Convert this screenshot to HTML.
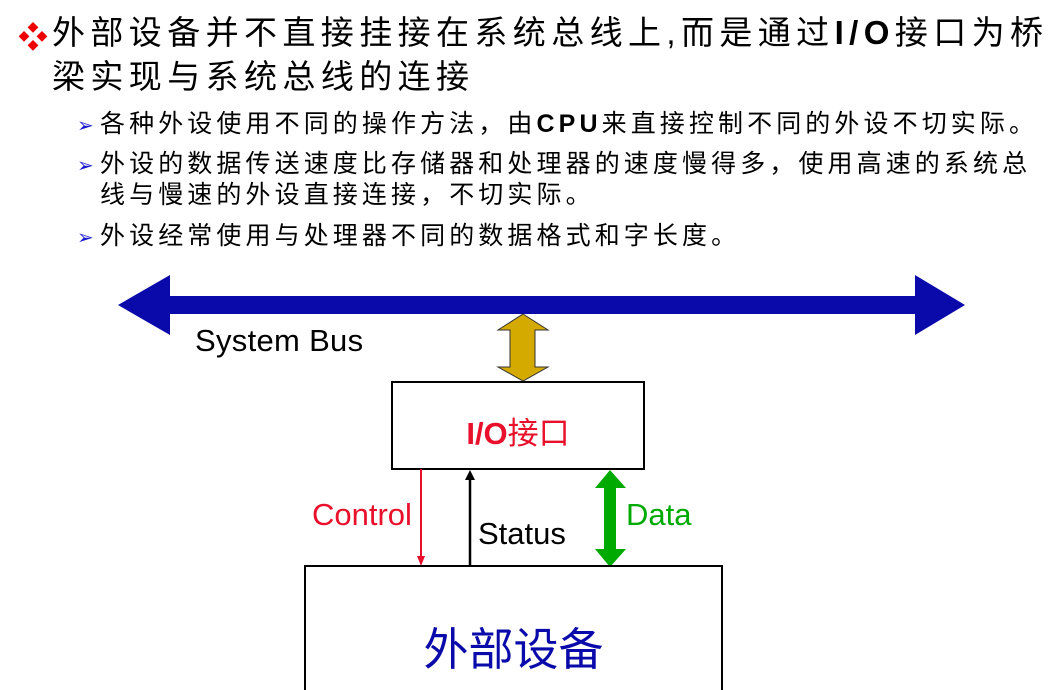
<!DOCTYPE html>
<html><head><meta charset="utf-8"><style>
body{margin:0;width:1058px;height:690px;background:#fff;position:relative;overflow:hidden;font-family:"Liberation Sans","Noto Sans CJK SC",sans-serif;color:#000}
.t{position:absolute;white-space:nowrap}
.h{font-size:33px;left:52px;line-height:40px;letter-spacing:5.4px}
.s{font-size:25px;left:100px;line-height:30px;letter-spacing:4.1px}
.ar{position:absolute;color:#1a1acc;font-size:20px;left:77px}
</style></head><body>
<div class="t" style="left:18px;top:13px;color:#e00;font-size:30px">❖</div>
<div class="t h" style="top:13px">外部设备并不直接挂接在系统总线上,而是通过<b>I/O</b>接口为桥</div>
<div class="t h" style="top:57px">梁实现与系统总线的连接</div>
<div class="ar t" style="top:113px">➢</div>
<div class="t s" style="top:109px">各种外设使用不同的操作方法，由<b>CPU</b>来直接控制不同的外设不切实际。</div>
<div class="ar t" style="top:153px">➢</div>
<div class="t s" style="top:149px">外设的数据传送速度比存储器和处理器的速度慢得多，使用高速的系统总</div>
<div class="t s" style="top:180px">线与慢速的外设直接连接，不切实际。</div>
<div class="ar t" style="top:225px">➢</div>
<div class="t s" style="top:221px">外设经常使用与处理器不同的数据格式和字长度。</div>

<svg width="1058" height="690" style="position:absolute;left:0;top:0">
<polygon points="118,305 170,275 170,296 915,296 915,275 965,305 915,335 915,314 170,314 170,335" fill="#0a0aaa"/>
<polygon points="523,314 548,330 535,330 535,367 548,367 523,381 498,367 510,367 510,330 498,330" fill="#d4a900" stroke="#333" stroke-width="1"/>
<rect x="392" y="382" width="252" height="87" fill="#fff" stroke="#000" stroke-width="2"/>
<line x1="421" y1="469" x2="421" y2="558" stroke="#e8102a" stroke-width="2"/>
<polygon points="417,556 425,556 421,566" fill="#e8102a"/>
<line x1="470" y1="567" x2="470" y2="478" stroke="#000" stroke-width="2.5"/>
<polygon points="465,480 475,480 470,470" fill="#000"/>
<polygon points="610,470 626,488 616,488 616,549 626,549 610,567 595,549 604,549 604,488 595,488" fill="#00aa00"/>
<rect x="305" y="566" width="417" height="130" fill="#fff" stroke="#000" stroke-width="2"/>
</svg>
<div class="t" style="left:195px;top:323px;font-size:31px;letter-spacing:0.3px">System Bus</div>
<div class="t" style="left:392px;width:252px;text-align:center;top:408px;font-size:31px;color:#e8102a"><b>I/O</b>接口</div>
<div class="t" style="left:312px;top:497px;font-size:31px;color:#e8102a">Control</div>
<div class="t" style="left:478px;top:516px;font-size:31px">Status</div>
<div class="t" style="left:626px;top:497px;font-size:31px;color:#00aa00">Data</div>
<div class="t" style="left:305px;width:417px;text-align:center;top:613px;font-size:45px;color:#0a0aaa">外部设备</div>
</body></html>
